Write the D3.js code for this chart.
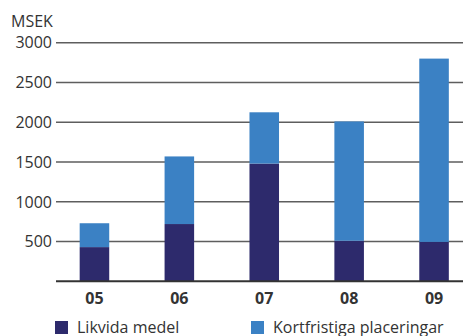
<!DOCTYPE html>
<html>
<head>
<meta charset="utf-8">
<script src="https://cdn.jsdelivr.net/npm/d3@7"></script>
<style>
  html, body { margin: 0; padding: 0; background: #fff; }
  svg { display: block; }
  text { font-family: "Open Sans", "Liberation Sans", sans-serif; fill: #333; }
</style>
</head>
<body>
<svg id="chart" width="463" height="336"></svg>
<script>
// Likvida medel och kortfristiga placeringar, MSEK
const years = ["05", "06", "07", "08", "09"];
const likvidaMedel = [430, 720, 1480, 510, 495];
const kortfristiga = [300, 850, 645, 1500, 2305];
const yTicks = [500, 1000, 1500, 2000, 2500, 3000];
const seriesNames = ["Likvida medel", "Kortfristiga placeringar"];
const seriesColors = ["#2d2a6c", "#3b81c4"];

const svg = d3.select("#chart");

const rows = years.map((y, i) => ({ year: y, likvida: likvidaMedel[i], kort: kortfristiga[i] }));
const stack = d3.stack().keys(["likvida", "kort"])(rows);

const x = d3.scaleBand()
  .domain(years)
  .range([52, 476.5])
  .paddingInner(0.652)
  .paddingOuter(0.326);

const y = d3.scaleLinear()
  .domain([0, 3000])
  .range([281.3, 42.7]);

// gridlines
svg.append("g")
  .selectAll("line")
  .data(yTicks)
  .join("line")
  .attr("x1", 56)
  .attr("x2", 463)
  .attr("y1", d => y(d))
  .attr("y2", d => y(d))
  .attr("stroke", "#5e5e5e")
  .attr("stroke-width", 1.6);

// y tick labels
svg.append("g")
  .selectAll("text")
  .data(yTicks)
  .join("text")
  .attr("x", 52)
  .attr("y", d => y(d))
  .attr("dy", "0.36em")
  .attr("text-anchor", "end")
  .style("font-size", "16px")
  .text(d => d);

svg.append("text")
  .attr("x", 11)
  .attr("y", 27)
  .style("font-size", "16px")
  .text("MSEK");

// stacked bars
svg.append("g")
  .selectAll("g")
  .data(stack)
  .join("g")
  .attr("fill", (d, i) => seriesColors[i])
  .selectAll("rect")
  .data(d => d)
  .join("rect")
  .attr("x", d => x(d.data.year))
  .attr("width", x.bandwidth())
  .attr("y", d => y(d[1]))
  .attr("height", d => y(d[0]) - y(d[1]));

// baseline
svg.append("line")
  .attr("x1", 56)
  .attr("x2", 463)
  .attr("y1", y(0))
  .attr("y2", y(0))
  .attr("stroke", "#333")
  .attr("stroke-width", 2);

// x axis labels
svg.append("g")
  .selectAll("text")
  .data(years)
  .join("text")
  .attr("x", d => x(d) + x.bandwidth() / 2)
  .attr("y", 304)
  .attr("text-anchor", "middle")
  .style("font-size", "16px")
  .style("font-weight", "bold")
  .text(d => d);

// legend
const legendX = [55, 251];
const legend = svg.append("g")
  .selectAll("g")
  .data(seriesNames)
  .join("g")
  .attr("transform", (d, i) => `translate(${legendX[i]},321)`);
legend.append("rect")
  .attr("width", 13)
  .attr("height", 13)
  .attr("fill", (d, i) => seriesColors[i]);
legend.append("text")
  .attr("x", 22)
  .attr("y", 12)
  .style("font-size", "16px")
  .text(d => d);
</script>
</body>
</html>
